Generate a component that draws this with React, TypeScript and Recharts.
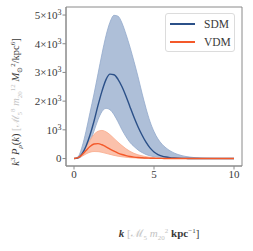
import React from "react";
import { ComposedChart, Area, Line, XAxis, YAxis, ReferenceArea, Legend } from "recharts";

const K = [0,0.25,0.5,0.75,1,1.25,1.5,1.75,2,2.25,2.5,2.75,3,3.25,3.5,3.75,4,4.25,4.5,4.75,5,5.25,5.5,5.75,6,6.25,6.5,6.75,7,7.25,7.5,7.75,8,8.25,8.5,8.75,9,9.25,9.5,9.75,10];
const SDM_MEAN = [0,25,160,430,820,1300,1850,2350,2750,2940,2920,2760,2500,2170,1800,1440,1110,820,570,370,230,140,85,52,32,20,12,7,4,2,1,0,0,0,0,0,0,0,0,0,0];
const SDM_HI = [0,60,400,950,1600,2250,2950,3650,4280,4750,4990,4960,4720,4330,3880,3380,2850,2280,1750,1290,940,680,500,370,270,195,140,100,70,50,35,24,15,10,6,4,2,1,0,0,0];
const SDM_LO = [0,10,80,260,560,960,1350,1640,1750,1700,1530,1280,1000,760,560,420,300,210,140,95,62,40,25,16,10,6,4,2,1,0,0,0,0,0,0,0,0,0,0,0,0];
const VDM_MEAN = [0,30,130,280,420,505,520,480,410,330,255,190,140,100,70,50,35,25,17,12,8,6,4,3,2,1,1,0,0,0,0,0,0,0,0,0,0,0,0,0,0];
const VDM_HI = [0,35,170,400,640,840,950,980,930,830,700,570,450,340,250,180,130,95,65,45,30,21,14,9,6,4,3,2,1,0,0,0,0,0,0,0,0,0,0,0,0];
const VDM_LO = [0,20,80,160,220,245,240,215,180,145,110,82,60,44,30,22,15,10,7,5,3,2,1,1,1,0,0,0,0,0,0,0,0,0,0,0,0,0,0,0,0];

const X_TICKS = [0, 5, 10];
const Y_TICKS = [0, 1000, 2000, 3000, 4000, 5000];

const SERIES = [
  { name: "SDM", color: "#2b5088" },
  { name: "VDM", color: "#f4592a" },
];

const data = K.map((k, i) => ({
  k,
  sdm: SDM_MEAN[i],
  sdmBand: [SDM_LO[i], SDM_HI[i]],
  vdm: VDM_MEAN[i],
  vdmBand: [VDM_LO[i], VDM_HI[i]],
}));

const FONT = "'Liberation Serif', serif";
const DARK = "#3a3a3a";
const GRAY = "#c4c4c4";

const YTick = (props: any) => {
  const { x, y, payload } = props;
  const v = payload.value as number;
  const m = v / 1000;
  return (
    <text x={x} y={y} dy="0.35em" textAnchor="end" fontFamily={FONT} fontSize={11} fill={DARK}>
      {v === 0 ? "0" : (
        <>
          <tspan>{m === 1 ? "10" : `${m}×10`}</tspan>
          <tspan dy={-4} fontSize={8}>3</tspan>
        </>
      )}
    </text>
  );
};

const XTick = (props: any) => {
  const { x, y, payload } = props;
  return (
    <text x={x} y={y} dy="0.71em" textAnchor="middle" fontFamily={FONT} fontSize={11} fill={DARK}>
      {payload.value}
    </text>
  );
};

const XLabel = () => (
  <text x={159} y={237} textAnchor="middle" fontFamily={FONT} fontSize={11} fill={DARK}>
    <tspan fontStyle="italic" fontWeight="bold">k</tspan>
    <tspan fill={GRAY}> [ℳ</tspan>
    <tspan fill={GRAY} fontSize={7} dy={2.5}>5</tspan>
    <tspan fill={GRAY} dy={-2.5} fontStyle="italic"> m</tspan>
    <tspan fill={GRAY} fontSize={7} dy={2.5}>20</tspan>
    <tspan fill={GRAY} fontSize={7} dy={-6.5}>2</tspan>
    <tspan fontWeight="bold" dy={4}> kpc</tspan>
    <tspan fontSize={7} dy={-4}>−1</tspan>
    <tspan dy={4}>]</tspan>
  </text>
);

const YLabel = () => (
  <text x={0} y={0} transform="translate(19,102) rotate(-90)" textAnchor="middle" fontFamily={FONT} fontSize={10.5} fill={DARK}>
    <tspan fontStyle="italic">k</tspan>
    <tspan fontSize={7} dy={-4}>3</tspan>
    <tspan fontStyle="italic" dy={4}> P</tspan>
    <tspan fontStyle="italic" fontSize={7} dy={2.5}>ρ</tspan>
    <tspan dy={-2.5}>(</tspan>
    <tspan fontStyle="italic">k</tspan>
    <tspan>)</tspan>
    <tspan fill={GRAY}> [ℳ</tspan>
    <tspan fill={GRAY} fontSize={7} dy={2.5}>5</tspan>
    <tspan fill={GRAY} fontSize={7} dy={-6.5}>8</tspan>
    <tspan fill={GRAY} fontStyle="italic" dy={4}> m</tspan>
    <tspan fill={GRAY} fontSize={7} dy={2.5}>20</tspan>
    <tspan fill={GRAY} fontSize={7} dy={-6.5}>12</tspan>
    <tspan fontStyle="italic" dy={4}> M</tspan>
    <tspan fontSize={7} dy={2.5}>⊙</tspan>
    <tspan fontSize={7} dy={-6.5}>2</tspan>
    <tspan dy={4}>/kpc</tspan>
    <tspan fontSize={7} dy={-4}>6</tspan>
    <tspan dy={4}>]</tspan>
  </text>
);

const LegendBox = () => (
  <div
    style={{
      width: 70,
      height: 39,
      border: "1px solid #dcdcdc",
      borderRadius: 3,
      background: "rgba(255,255,255,0.85)",
      boxSizing: "border-box",
      position: "relative",
      fontFamily: FONT,
      fontSize: 11.5,
      color: DARK,
    }}
  >
    {SERIES.map((s, i) => (
      <div key={s.name} style={{ position: "absolute", left: 4, top: 3 + i * 18, height: 14, display: "flex", alignItems: "center" }}>
        <div style={{ width: 25, height: 1.5, background: s.color }} />
        <span style={{ marginLeft: 9, lineHeight: "14px" }}>{s.name}</span>
      </div>
    ))}
  </div>
);

export default function App() {
  return (
    <div style={{ width: 253, height: 251, position: "relative", background: "#fff" }}>
      <style>{`body{margin:0}`}</style>
      <ComposedChart width={253} height={251} data={data} margin={{ top: 7, right: 11, left: 0, bottom: 0 }}>
        <XAxis
          dataKey="k"
          type="number"
          domain={[-0.5, 10.5]}
          ticks={X_TICKS}
          tick={<XTick />}
          tickSize={3.5}
          tickMargin={1}
          height={46}
          stroke="#8a8a8a"
          allowDataOverflow
          label={<XLabel />}
        />
        <YAxis
          type="number"
          domain={[-260, 5280]}
          ticks={Y_TICKS}
          tick={<YTick />}
          tickSize={3.5}
          tickMargin={1}
          width={66}
          stroke="#8a8a8a"
          allowDataOverflow
          label={<YLabel />}
        />
        <ReferenceArea x1={-0.5} x2={10.5} y1={-260} y2={5280} fill="none" stroke="#8a8a8a" strokeWidth={1} />
        <Area dataKey="sdmBand" type="monotone" fill="#aebfd8" fillOpacity={1} stroke="#93a9cb" strokeWidth={0.8} isAnimationActive={false} dot={false} activeDot={false} />
        <Area dataKey="vdmBand" type="monotone" fill="#fbbea6" fillOpacity={0.95} stroke="#f9a98a" strokeWidth={0.8} isAnimationActive={false} dot={false} activeDot={false} />
        <Line dataKey="sdm" type="monotone" stroke={SERIES[0].color} strokeWidth={1.4} dot={false} isAnimationActive={false} />
        <Line dataKey="vdm" type="monotone" stroke={SERIES[1].color} strokeWidth={1.4} dot={false} isAnimationActive={false} />
        <Legend content={<LegendBox />} wrapperStyle={{ position: "absolute", left: 165, top: 13, width: 70, height: 39 }} />
      </ComposedChart>
    </div>
  );
}
